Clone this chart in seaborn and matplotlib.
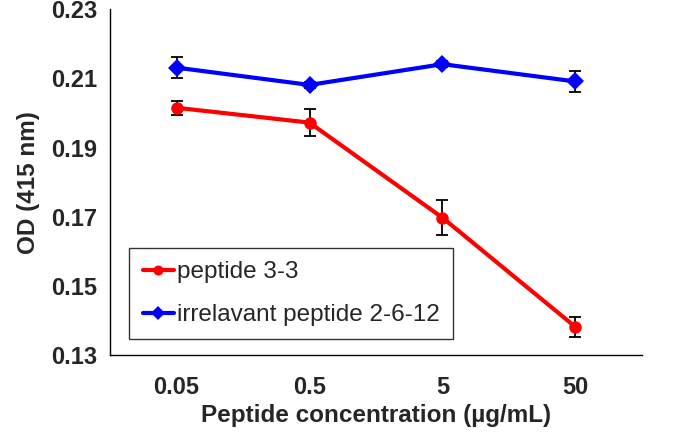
import numpy as np
import pandas as pd
import seaborn as sns
import matplotlib.pyplot as plt

# values
concentrations = ["0.05", "0.5", "5", "50"]
peptide_33 = [0.2015, 0.1972, 0.1697, 0.1381]
peptide_33_err = [0.0020, 0.0040, 0.0050, 0.0030]
irrelevant = [0.2131, 0.2081, 0.2141, 0.2091]
irrelevant_err = [0.0030, 0.0008, 0.0008, 0.0030]

sns.set_style("white")
plt.rcParams["font.family"] = ["Liberation Sans", "DejaVu Sans"]

df = pd.DataFrame({
    "pos": list(range(len(concentrations))) * 2,
    "od": peptide_33 + irrelevant,
    "err": peptide_33_err + irrelevant_err,
    "group": ["peptide 3-3"] * 4 + ["irrelavant peptide 2-6-12"] * 4,
})

fig = plt.figure(figsize=(6.85, 4.38), dpi=100)
ax = fig.add_axes([0.1606, 0.1895, 0.7766, 0.7895])

palette = {"peptide 3-3": "#ff0000", "irrelavant peptide 2-6-12": "#0000ff"}
markers = {"peptide 3-3": "o", "irrelavant peptide 2-6-12": "D"}

# error bars first, drawn under the markers
for name, sub in df.groupby("group", sort=False):
    ax.errorbar(sub["pos"], sub["od"], yerr=sub["err"], fmt="none",
                ecolor="black", elinewidth=1.3, capsize=4, capthick=1.3, zorder=2)

sns.lineplot(data=df, x="pos", y="od", hue="group", style="group",
             palette=palette, markers=markers, dashes=False,
             linewidth=3, markersize=9, markeredgewidth=0, ax=ax, zorder=3)

ax.set_xlim(-0.5, 3.5)
ax.set_ylim(0.13, 0.23)
ax.set_yticks(np.arange(0.13, 0.2301, 0.02))
ax.set_yticklabels(["%.2f" % v for v in np.arange(0.13, 0.2301, 0.02)],
                   fontsize=17, fontweight="bold")
ax.set_xticks(range(len(concentrations)))
ax.set_xticklabels(concentrations, fontsize=17, fontweight="bold")
ax.set_xticks([0.5, 1.5, 2.5, 3.5], minor=True)
ax.tick_params(axis="x", which="major", length=0, pad=15)
ax.tick_params(axis="x", which="minor", length=6, width=1, direction="out", color="black")
ax.tick_params(axis="y", length=6, width=1, direction="out", color="black", pad=3)

for side in ["top", "right"]:
    ax.spines[side].set_visible(False)
for side in ["left", "bottom"]:
    ax.spines[side].set_color("black")
    ax.spines[side].set_linewidth(1)

ax.set_xlabel("Peptide concentration (µg/mL)", fontsize=17.5, fontweight="bold", labelpad=4)
ax.set_ylabel("OD (415 nm)", fontsize=17.5, fontweight="bold", labelpad=8)

leg = ax.legend(loc="lower left", bbox_to_anchor=(0.036, 0.045), fontsize=17.5,
                frameon=True, fancybox=False, edgecolor="black",
                handlelength=1.3, handletextpad=0.1, borderpad=0.55,
                labelspacing=0.85, borderaxespad=0, markerscale=0.8)
leg.get_frame().set_linewidth(1)

fig.savefig("out.png", dpi=100)
